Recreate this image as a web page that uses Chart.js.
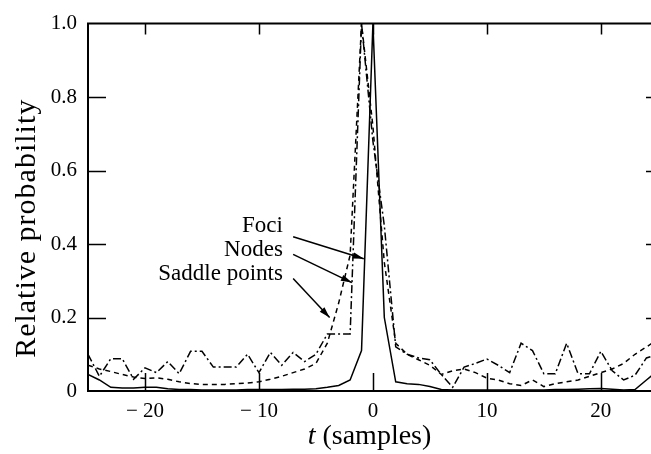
<!DOCTYPE html>
<html>
<head>
<meta charset="utf-8">
<script src="https://cdn.jsdelivr.net/npm/chart.js@4.4.1/dist/chart.umd.min.js"></script>
<style>
    html, body { margin: 0; padding: 0; background: #fff; }
    #wrap { width: 651px; height: 454px; }
</style>
</head>
<body>
<div id="wrap"><canvas id="chart"></canvas></div>
<script>
// lag in samples
const samples = [-25, -24, -23, -22, -21, -20, -19, -18, -17, -16, -15, -14, -13, -12, -11, -10,
    -9, -8, -7, -6, -5, -4, -3, -2, -1, 0, 1, 2, 3, 4, 5, 6, 7, 8, 9,
    10, 11, 12, 13, 14, 15, 16, 17, 18, 19, 20, 21, 22, 23, 24, 25];

const foci = [0.045, 0.03, 0.01, 0.008, 0.008, 0.01, 0.01, 0.006, 0.004, 0.004, 0.003, 0.003, 0.003, 0.003, 0.004, 0.004,
    0.004, 0.004, 0.005, 0.005, 0.006, 0.01, 0.015, 0.03, 0.11, 1.0, 0.2, 0.025, 0.02, 0.018, 0.012, 0.004, 0.003, 0.003, 0.003,
    0.003, 0.003, 0.003, 0.003, 0.003, 0.003, 0.004, 0.004, 0.005, 0.006, 0.007, 0.005, 0.003, 0.004, 0.03, 0.055];

const nodes = [0.1, 0.04, 0.088, 0.088, 0.032, 0.063, 0.05, 0.08, 0.047, 0.108, 0.108, 0.065, 0.065, 0.065, 0.1, 0.05,
    0.105, 0.07, 0.105, 0.08, 0.1, 0.155, 0.155, 0.155, 1.0, 0.68, 0.45, 0.12, 0.1, 0.09, 0.085, 0.045, 0.01, 0.065, 0.075,
    0.087, 0.07, 0.05, 0.13, 0.11, 0.047, 0.047, 0.13, 0.047, 0.047, 0.108, 0.055, 0.03, 0.043, 0.09, 0.1];

const saddles = [0.07, 0.06, 0.053, 0.045, 0.038, 0.034, 0.036, 0.032, 0.025, 0.02, 0.018, 0.018, 0.018, 0.02, 0.022, 0.025,
    0.032, 0.04, 0.05, 0.06, 0.075, 0.13, 0.24, 0.37, 1.0, 0.72, 0.35, 0.13, 0.1, 0.085, 0.07, 0.045, 0.055, 0.06, 0.05,
    0.035, 0.03, 0.02, 0.015, 0.03, 0.012, 0.02, 0.025, 0.03, 0.04, 0.05, 0.06, 0.075, 0.1, 0.12, 0.14];

const xTicks = [-20, -10, 0, 10, 20];
const xTickLabels = ['\u2212 20', '\u2212 10', '0', '10', '20'];
const yTicks = [0, 0.2, 0.4, 0.6, 0.8, 1.0];
const yTickLabels = ['0', '0.2', '0.4', '0.6', '0.8', '1.0'];

// labels with arrows: text anchor and arrow tail/tip in data units
const labelNames = ['Foci', 'Nodes', 'Saddle points'];
const labelPos = [[-7.9, 0.45], [-7.9, 0.385], [-7.9, 0.318]];
const arrowTail = [[-7.0, 0.42], [-7.0, 0.372], [-7.0, 0.306]];
const arrowTip = [[-0.8, 0.36], [-1.85, 0.295], [-3.8, 0.2]];

const SERIF = '"Liberation Serif", "DejaVu Serif", serif';

function toPoints(values) {
    return samples.map((t, i) => ({ x: t, y: values[i] }));
}

function arrow(ctx, x0, y0, x1, y1) {
    ctx.beginPath();
    ctx.moveTo(x0, y0);
    ctx.lineTo(x1, y1);
    ctx.stroke();
    const ang = Math.atan2(y1 - y0, x1 - x0);
    const len = 11, half = 3.2;
    ctx.beginPath();
    ctx.moveTo(x1, y1);
    ctx.lineTo(x1 - len * Math.cos(ang) + half * Math.sin(ang), y1 - len * Math.sin(ang) - half * Math.cos(ang));
    ctx.lineTo(x1 - len * Math.cos(ang) - half * Math.sin(ang), y1 - len * Math.sin(ang) + half * Math.cos(ang));
    ctx.closePath();
    ctx.fill();
}

// frame, inward ticks, axis titles and labelled arrows
const decorations = {
    id: 'decorations',
    afterDraw(chart) {
        const { ctx, chartArea: a, scales: { x, y } } = chart;
        ctx.save();
        ctx.strokeStyle = '#000';
        ctx.fillStyle = '#000';

        ctx.lineWidth = 2;
        ctx.beginPath();
        ctx.moveTo(a.right + 2, a.top);
        ctx.lineTo(a.left, a.top);
        ctx.lineTo(a.left, a.bottom);
        ctx.lineTo(a.right + 2, a.bottom);
        ctx.stroke();

        ctx.lineWidth = 1.5;
        ctx.beginPath();
        xTicks.forEach(v => {
            const px = Math.round(x.getPixelForValue(v)) + 0.5;
            ctx.moveTo(px, a.bottom);
            ctx.lineTo(px, a.bottom - 18);
            ctx.moveTo(px, a.top);
            ctx.lineTo(px, a.top + 11);
        });
        yTicks.slice(1, -1).forEach(v => {
            const py = Math.round(y.getPixelForValue(v)) + 0.5;
            ctx.moveTo(a.left, py);
            ctx.lineTo(a.left + 18, py);
            ctx.moveTo(a.right, py);
            ctx.lineTo(a.right - 5, py);
        });
        ctx.stroke();

        // y axis title
        ctx.save();
        ctx.translate(27, (a.top + a.bottom) / 2 + 21);
        ctx.rotate(-Math.PI / 2);
        ctx.font = '30px ' + SERIF;
        ctx.letterSpacing = '1px';
        ctx.textAlign = 'center';
        ctx.textBaseline = 'middle';
        ctx.fillText('Relative probability', 0, 0);
        ctx.restore();

        // x axis title, italic t
        ctx.textBaseline = 'middle';
        ctx.textAlign = 'left';
        const italic = 'italic 28px ' + SERIF;
        const upright = '28px ' + SERIF;
        ctx.font = italic;
        const wt = ctx.measureText('t').width;
        ctx.font = upright;
        const wr = ctx.measureText(' (samples)').width;
        const cx = x.getPixelForValue(-0.3);
        const startX = cx - (wt + wr) / 2;
        ctx.font = italic;
        ctx.fillText('t', startX, 437);
        ctx.font = upright;
        ctx.fillText(' (samples)', startX + wt, 437);

        // labels with arrows
        ctx.font = '23px ' + SERIF;
        ctx.textAlign = 'right';
        ctx.lineWidth = 1.5;
        labelNames.forEach((name, i) => {
            ctx.fillText(name, x.getPixelForValue(labelPos[i][0]), y.getPixelForValue(labelPos[i][1]));
            arrow(ctx,
                x.getPixelForValue(arrowTail[i][0]), y.getPixelForValue(arrowTail[i][1]),
                x.getPixelForValue(arrowTip[i][0]), y.getPixelForValue(arrowTip[i][1]));
        });
        ctx.restore();
    }
};

const ctx = document.getElementById('chart').getContext('2d');

new Chart(ctx, {
    type: 'line',
    data: {
        datasets: [
            {
                label: 'Foci',
                data: toPoints(foci),
                borderColor: '#000',
                borderWidth: 1.5
            },
            {
                label: 'Nodes',
                data: toPoints(nodes),
                borderColor: '#000',
                borderWidth: 1.5,
                borderDash: [8, 3, 2, 3]
            },
            {
                label: 'Saddle points',
                data: toPoints(saddles),
                borderColor: '#000',
                borderWidth: 1.5,
                borderDash: [5, 4]
            }
        ]
    },
    options: {
        responsive: true,
        maintainAspectRatio: false,
        animation: false,
        layout: {
            padding: { top: 12, right: 0, left: 0, bottom: 0 }
        },
        elements: {
            point: { radius: 0 },
            line: { tension: 0, fill: false }
        },
        scales: {
            x: {
                type: 'linear',
                min: -25,
                max: 24.4,
                afterFit: scale => { scale.height = 63; },
                afterBuildTicks: scale => { scale.ticks = xTicks.map(v => ({ value: v })); },
                grid: { display: false, drawTicks: false },
                border: { display: false },
                ticks: {
                    padding: 8,
                    color: '#000',
                    font: { family: SERIF, size: 21 },
                    maxRotation: 0,
                    autoSkip: false,
                    callback: v => xTickLabels[xTicks.indexOf(v)]
                }
            },
            y: {
                min: 0,
                max: 1,
                afterFit: scale => { scale.width = 88; },
                afterBuildTicks: scale => { scale.ticks = yTicks.map(v => ({ value: v })); },
                grid: { display: false, drawTicks: false },
                border: { display: false },
                ticks: {
                    padding: 11,
                    color: '#000',
                    font: { family: SERIF, size: 21 },
                    callback: v => yTickLabels[yTicks.indexOf(v)]
                }
            }
        },
        plugins: {
            legend: { display: false },
            tooltip: { enabled: false }
        }
    },
    plugins: [decorations]
});
</script>
</body>
</html>
